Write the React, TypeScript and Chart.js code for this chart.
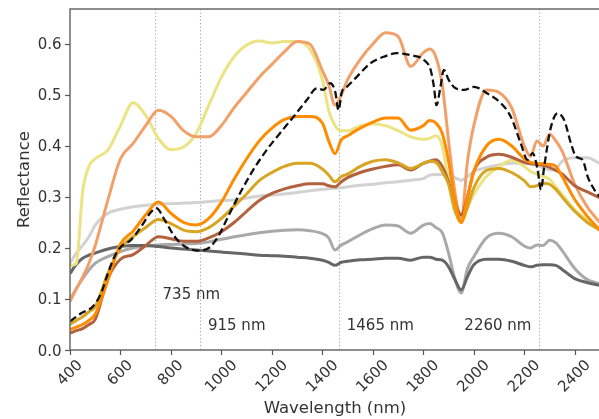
import React, { useEffect, useRef } from "react";
import { Chart, registerables } from "chart.js";

Chart.register(...registerables);

// ---------------- data ----------------
const wavelengths = [
  400, 425, 450, 475, 500, 550, 600, 650, 700, 750,
  800, 850, 900, 950, 1000, 1050, 1100, 1150, 1200, 1250,
  1300, 1350, 1400, 1425, 1450, 1475, 1500, 1550, 1600, 1650,
  1700, 1750, 1800, 1825, 1850, 1875, 1900, 1925, 1950, 1975,
  2000, 2050, 2100, 2150, 2200, 2225, 2250, 2275, 2300, 2325,
  2350, 2400, 2450, 2500,
];

const khakiR = [
  0.165, 0.17, 0.31, 0.36, 0.375, 0.392, 0.44, 0.485, 0.46, 0.415,
  0.393, 0.398, 0.425, 0.48, 0.535, 0.575, 0.598, 0.606, 0.602, 0.605,
  0.605, 0.59, 0.53, 0.47, 0.44, 0.43, 0.43, 0.44, 0.443, 0.44,
  0.43, 0.418, 0.413, 0.415, 0.42, 0.4, 0.33, 0.27, 0.26, 0.28,
  0.305, 0.34, 0.36, 0.372, 0.36, 0.35, 0.345, 0.34, 0.335, 0.32,
  0.305, 0.275, 0.255, 0.235,
];

const salmonR = [
  0.095, 0.12, 0.143, 0.17, 0.205, 0.294, 0.375, 0.405, 0.44, 0.47,
  0.458, 0.43, 0.418, 0.418, 0.44, 0.475, 0.505, 0.535, 0.56, 0.585,
  0.605, 0.6, 0.548, 0.52, 0.48, 0.5, 0.53, 0.57, 0.6, 0.622,
  0.615, 0.556, 0.583, 0.59, 0.574, 0.52, 0.41, 0.31, 0.255, 0.37,
  0.44, 0.51, 0.505, 0.475, 0.4, 0.38, 0.41, 0.4, 0.423, 0.41,
  0.39, 0.325, 0.28, 0.25,
];

const orangeR = [
  0.04, 0.045, 0.05, 0.058, 0.07, 0.137, 0.208, 0.233, 0.265, 0.29,
  0.268, 0.25, 0.245, 0.258, 0.29, 0.335, 0.375, 0.41, 0.435, 0.452,
  0.458, 0.458, 0.445, 0.41, 0.385, 0.412, 0.42, 0.435, 0.447, 0.455,
  0.455, 0.431, 0.44, 0.45, 0.445, 0.425, 0.37, 0.295, 0.25, 0.3,
  0.35, 0.4, 0.413, 0.4, 0.375, 0.368, 0.366, 0.365, 0.364, 0.36,
  0.34, 0.295, 0.262, 0.235,
];

const goldenrodR = [
  0.05, 0.058, 0.065, 0.075, 0.085, 0.15, 0.2, 0.222, 0.24, 0.256,
  0.248, 0.235, 0.232, 0.24, 0.258, 0.282, 0.306, 0.332, 0.348, 0.36,
  0.366, 0.366, 0.355, 0.343, 0.33, 0.34, 0.345, 0.36, 0.37, 0.373,
  0.367, 0.356, 0.366, 0.37, 0.368, 0.35, 0.325, 0.275, 0.25, 0.28,
  0.318, 0.352, 0.356, 0.348, 0.332, 0.32, 0.322, 0.327, 0.325, 0.315,
  0.3, 0.272, 0.25, 0.235,
];

const siennaR = [
  0.033, 0.038, 0.042, 0.05, 0.06, 0.14, 0.178, 0.187, 0.205, 0.222,
  0.218, 0.213, 0.213, 0.22, 0.232, 0.25, 0.272, 0.293, 0.307, 0.316,
  0.322, 0.326, 0.326, 0.322, 0.32, 0.33, 0.338, 0.348, 0.355, 0.36,
  0.363, 0.353, 0.366, 0.37, 0.373, 0.36, 0.33, 0.29, 0.265, 0.3,
  0.35, 0.378, 0.384, 0.378, 0.368, 0.365, 0.364, 0.362, 0.358, 0.352,
  0.345, 0.322, 0.31, 0.298,
];

const lightGrayR = [
  0.17, 0.19, 0.205, 0.222, 0.245, 0.268, 0.276, 0.281, 0.284, 0.286,
  0.287, 0.288, 0.289, 0.291, 0.293, 0.294, 0.298, 0.302, 0.304, 0.306,
  0.309, 0.312, 0.315, 0.316, 0.317, 0.318, 0.32, 0.323, 0.325, 0.328,
  0.33, 0.333, 0.336, 0.343, 0.344, 0.344, 0.343, 0.338, 0.333, 0.34,
  0.35, 0.358, 0.363, 0.366, 0.366, 0.366, 0.362, 0.358, 0.353, 0.355,
  0.37, 0.377, 0.377, 0.365,
];

const midGrayR = [
  0.1, 0.12, 0.14, 0.157, 0.17, 0.183, 0.193, 0.2, 0.204, 0.206,
  0.207, 0.208, 0.209, 0.212, 0.217, 0.222, 0.226, 0.23, 0.233, 0.235,
  0.236, 0.234, 0.228, 0.22, 0.196, 0.206, 0.212, 0.226, 0.238, 0.245,
  0.243, 0.229, 0.245, 0.248, 0.24, 0.23, 0.19, 0.14, 0.112, 0.16,
  0.183, 0.22, 0.229, 0.222, 0.204, 0.2, 0.206, 0.205, 0.215, 0.21,
  0.195, 0.16, 0.138, 0.13,
];

const darkGrayR = [
  0.15, 0.168, 0.18, 0.186, 0.19, 0.198, 0.203, 0.205, 0.205, 0.203,
  0.2, 0.198, 0.196, 0.194, 0.192, 0.19, 0.188, 0.186, 0.185, 0.184,
  0.182, 0.18, 0.176, 0.172, 0.166, 0.172, 0.174, 0.177, 0.178, 0.18,
  0.18, 0.176, 0.182, 0.182, 0.178, 0.176, 0.163, 0.138, 0.118, 0.144,
  0.167, 0.178, 0.178, 0.174, 0.166, 0.163, 0.166, 0.167, 0.167, 0.166,
  0.158, 0.14, 0.132, 0.127,
];

const dashedNm = [
  400, 444, 490, 523, 550, 576, 603, 642, 682, 722,
  742, 775, 815, 855, 907, 950, 990, 1020, 1073, 1126,
  1179, 1232, 1285, 1338, 1378, 1404, 1431, 1451, 1464, 1477,
  1497, 1537, 1590, 1643, 1696, 1749, 1802, 1829, 1842, 1852,
  1868, 1881, 1901, 1928, 1961, 2001, 2054, 2107, 2147, 2186,
  2213, 2233, 2253, 2266, 2279, 2306, 2332, 2358, 2385, 2405,
  2431, 2451, 2478, 2500,
];
const dashedR = [
  0.056, 0.072, 0.085, 0.111, 0.15, 0.183, 0.203, 0.216, 0.242, 0.271,
  0.278, 0.255, 0.222, 0.203, 0.195, 0.2, 0.225, 0.255, 0.307, 0.353,
  0.392, 0.425, 0.457, 0.49, 0.513, 0.51, 0.523, 0.506, 0.47, 0.506,
  0.516, 0.536, 0.562, 0.575, 0.582, 0.578, 0.569, 0.549, 0.516, 0.48,
  0.516, 0.549, 0.529, 0.513, 0.51, 0.516, 0.503, 0.484, 0.457, 0.405,
  0.373, 0.386, 0.353, 0.314, 0.36, 0.438, 0.464, 0.451, 0.405, 0.379,
  0.373, 0.34, 0.314, 0.3,
];

const markerNm = [735, 915, 1465, 2260];
const markerLabels = ["735 nm", "915 nm", "1465 nm", "2260 nm"];
const markerLabelY = [0.1, 0.04, 0.04, 0.04];
const markerLabelLeft = [false, false, false, true];

const xTicks = [400, 600, 800, 1000, 1200, 1400, 1600, 1800, 2000, 2200, 2400];
const yTicks = [0, 0.1, 0.2, 0.3, 0.4, 0.5, 0.6];
const xLabel = "Wavelength (nm)";
const yLabel = "Reflectance";

// ---------------- helpers ----------------
const FONT = '"DejaVu Sans", Verdana, sans-serif';
const TEXT = "#333333";
const toPoints = (xs: number[], ys: number[]) => xs.map((x, i) => ({ x, y: ys[i] }));

const solid = (label: string, ys: number[], color: string) => ({
  label,
  data: toPoints(wavelengths, ys),
  borderColor: color,
  backgroundColor: color,
  borderWidth: 3,
  pointRadius: 0,
  cubicInterpolationMode: "monotone" as const,
  fill: false,
  clip: 0,
});

const axesPlugin = {
  id: "mplAxes",
  beforeDatasetsDraw(chart: any) {
    const { ctx, chartArea: a, scales } = chart;
    const x = scales.x;
    ctx.save();
    ctx.beginPath();
    ctx.rect(a.left, a.top, a.right - a.left, a.bottom - a.top);
    ctx.clip();
    ctx.strokeStyle = "#a8a8a8";
    ctx.lineWidth = 1.1;
    ctx.setLineDash([1.3, 2.2]);
    markerNm.forEach((nm) => {
      const px = Math.round(x.getPixelForValue(nm)) + 0.5;
      ctx.beginPath();
      ctx.moveTo(px, a.top);
      ctx.lineTo(px, a.bottom);
      ctx.stroke();
    });
    ctx.restore();
  },
  afterDatasetsDraw(chart: any) {
    const { ctx, chartArea: a, scales } = chart;
    const x = scales.x;
    const y = scales.y;
    ctx.save();
    // annotation texts
    ctx.fillStyle = TEXT;
    ctx.font = `15px ${FONT}`;
    ctx.textBaseline = "alphabetic";
    markerNm.forEach((nm, i) => {
      const px = x.getPixelForValue(nm);
      const py = y.getPixelForValue(markerLabelY[i]);
      if (markerLabelLeft[i]) {
        ctx.textAlign = "right";
        ctx.fillText(markerLabels[i], px - 8, py);
      } else {
        ctx.textAlign = "left";
        ctx.fillText(markerLabels[i], px + 8, py);
      }
    });

    // frame
    ctx.strokeStyle = "#6a6a6a";
    ctx.lineWidth = 1.5;
    ctx.setLineDash([]);
    ctx.strokeRect(a.left, a.top, a.right - a.left, a.bottom - a.top);

    // ticks
    ctx.strokeStyle = "#555555";
    ctx.lineWidth = 1.2;
    yTicks.forEach((v) => {
      const py = Math.round(y.getPixelForValue(v)) + 0.5;
      ctx.beginPath();
      ctx.moveTo(a.left - 5, py);
      ctx.lineTo(a.left, py);
      ctx.stroke();
    });
    xTicks.forEach((v) => {
      const px = Math.round(x.getPixelForValue(v)) + 0.5;
      ctx.beginPath();
      ctx.moveTo(px, a.bottom);
      ctx.lineTo(px, a.bottom + 5);
      ctx.stroke();
    });

    // y tick labels
    ctx.fillStyle = TEXT;
    ctx.font = `15px ${FONT}`;
    ctx.textAlign = "right";
    ctx.textBaseline = "alphabetic";
    yTicks.forEach((v) => {
      const py = y.getPixelForValue(v);
      ctx.fillText(v.toFixed(1), a.left - 8.5, py + 5.5);
    });

    // x tick labels, rotated 45deg, centred under tick
    ctx.textAlign = "center";
    ctx.textBaseline = "middle";
    xTicks.forEach((v) => {
      const s = String(v);
      const w = ctx.measureText(s).width;
      const h = (w + 11) * Math.SQRT1_2;
      const px = x.getPixelForValue(v);
      const cy = a.bottom + 9 + h / 2;
      ctx.save();
      ctx.translate(px, cy);
      ctx.rotate(-Math.PI / 4);
      ctx.fillText(s, 0, 0);
      ctx.restore();
    });

    // axis titles
    ctx.font = `16.5px ${FONT}`;
    ctx.textAlign = "center";
    ctx.textBaseline = "middle";
    ctx.fillText(xLabel, (a.left + a.right) / 2, 409);
    ctx.save();
    ctx.translate(25, (a.top + a.bottom) / 2);
    ctx.rotate(-Math.PI / 2);
    ctx.fillText(yLabel, 0, 0);
    ctx.restore();

    ctx.restore();
  },
};

export default function App() {
  const canvasRef = useRef<HTMLCanvasElement | null>(null);

  useEffect(() => {
    const canvas = canvasRef.current;
    if (!canvas) return;
    const chart = new Chart(canvas, {
      type: "line",
      data: {
        datasets: [
          {
            label: "dashed",
            data: toPoints(dashedNm, dashedR),
            borderColor: "#111111",
            backgroundColor: "#111111",
            borderWidth: 2.3,
            borderDash: [7.5, 3.8],
            pointRadius: 0,
            cubicInterpolationMode: "monotone",
            fill: false,
            clip: 0,
          },
          solid("orange", orangeR, "#ff8c00"),
          solid("goldenrod", goldenrodR, "#d8a523"),
          solid("sienna", siennaR, "#b2623e"),
          solid("salmon", salmonR, "#f2a06a"),
          solid("khaki", khakiR, "#ece383"),
          solid("darkgray", darkGrayR, "#666666"),
          solid("midgray", midGrayR, "#a9a9a9"),
          solid("lightgray", lightGrayR, "#d2d2d2"),
        ] as any,
      },
      options: {
        animation: false,
        responsive: false,
        maintainAspectRatio: false,
        devicePixelRatio: 1,
        events: [],
        layout: { padding: { left: 70, top: 9, right: 6, bottom: 69 } },
        plugins: { legend: { display: false }, tooltip: { enabled: false } },
        scales: {
          x: { type: "linear", min: 400, max: 2500, display: false },
          y: { type: "linear", min: 0, max: 0.6686, display: false },
        },
      },
      plugins: [axesPlugin],
    });
    return () => chart.destroy();
  }, []);

  return (
    <div
      style={{
        position: "fixed",
        left: 0,
        top: 0,
        width: 599,
        height: 419,
        overflow: "hidden",
        background: "#ffffff",
      }}
    >
      <canvas
        ref={canvasRef}
        width={606}
        height={419}
        style={{ display: "block", width: 606, height: 419 }}
      />
    </div>
  );
}
